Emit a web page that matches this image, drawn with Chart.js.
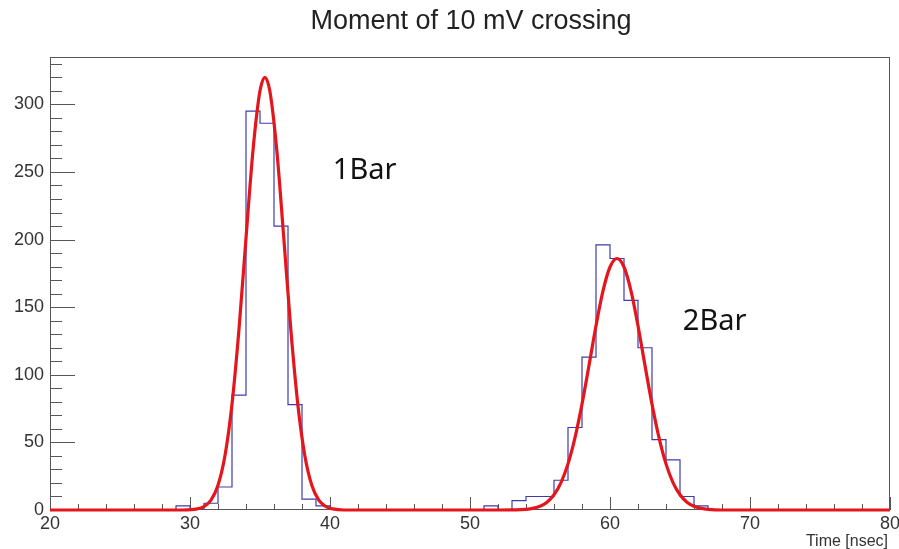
<!DOCTYPE html>
<html>
<head>
<meta charset="utf-8">
<script src="https://cdn.jsdelivr.net/npm/chart.js@4"></script>
<style>
  html, body { margin: 0; padding: 0; background: #fff; }
</style>
</head>
<body>
<canvas id="myChart" width="899" height="549"></canvas>
<script>
// histogram: 1 ns bins starting at 20 ns
const binStart = 20
const binWidth = 1
const histCounts = [
    0, 0, 0, 0, 0, 0, 0, 0, 0,              // 20-28
    3, 1, 5, 17, 85, 295, 286, 210, 78, 8, 3, // 29-39
    0, 0, 0, 0, 0, 0, 0, 0, 0, 0, 0,        // 40-50
    3, 0, 7, 10, 10, 22, 61, 113, 196, 186, 155, 120, 52, 37, 10, 3, // 51-66
    0, 0, 0, 0, 0, 0, 0, 0, 0, 0, 0, 0, 0   // 67-79
]

// gaussian fit curve
const fitX = [20, 29.5, 30.5, 31, 31.5, 32, 32.5, 33, 33.5, 34, 34.5, 35, 35.35, 35.7, 36.2, 36.7, 37.2, 37.7, 38.2, 38.7, 39.2, 39.7, 40.2, 41,
    52, 53, 54, 55, 55.5, 56, 56.5, 57, 57.5, 58, 58.5, 59, 59.5, 60, 60.5, 61, 61.5, 62, 62.5, 63, 63.5, 64, 64.5, 65, 65.5, 66, 66.5, 67, 68, 80]
const fitY = [0, 0, 0.8, 2.6, 7.3, 18.3, 40.3, 78.2, 133.7, 201, 266, 310, 320, 310, 266, 201, 133.7, 78.2, 40.3, 18.3, 7.3, 2.6, 0.8, 0,
    0, 0.1, 0.5, 2.8, 5.8, 11.3, 20.3, 34.1, 53.5, 78.3, 106.9, 136.2, 162, 179.7, 186, 179.7, 162, 136.2, 106.9, 78.3, 53.5, 34.1, 20.3, 11.3, 5.8, 2.8, 1.3, 0.5, 0, 0]

const xTicks = [20, 30, 40, 50, 60, 70, 80]
const yTicks = [0, 50, 100, 150, 200, 250, 300]
const xMinorStep = 2
const yMinorStep = 10

const titleText = 'Moment of 10 mV crossing'
const xTitle = 'Time [nsec]'
const notes = [
    { text: '1Bar', x: 40.2, y: 245 },
    { text: '2Bar', x: 65.2, y: 133 }
]

const histPoints = histCounts.map((c, i) => ({ x: binStart + i * binWidth, y: c }))
histPoints.push({ x: binStart + histCounts.length * binWidth, y: 0 })
const fitPoints = fitX.map((x, i) => ({ x: x, y: fitY[i] }))

const tickFont = { family: 'Liberation Sans', size: 18 }

const rootFrame = {
    id: 'rootFrame',
    beforeDatasetsDraw(chart) {
        const { ctx, chartArea: a, scales: { x, y } } = chart
        ctx.save()
        ctx.strokeStyle = '#555'
        ctx.lineWidth = 1
        ctx.strokeRect(a.left + 0.5, a.top + 0.5, a.right - a.left - 1, a.bottom - a.top - 1)
        ctx.beginPath()
        for (let v = y.min; v <= y.max; v += yMinorStep) {
            const py = Math.round(y.getPixelForValue(v)) + 0.5
            const len = v % 50 === 0 ? 25 : 12
            ctx.moveTo(a.left, py)
            ctx.lineTo(a.left + len, py)
        }
        for (let v = x.min; v <= x.max; v += xMinorStep) {
            const px = Math.round(x.getPixelForValue(v)) + 0.5
            const len = v % 10 === 0 ? 13 : 6
            ctx.moveTo(px, a.bottom)
            ctx.lineTo(px, a.bottom - len)
        }
        ctx.stroke()
        ctx.restore()
    },
    afterDraw(chart) {
        const { ctx, scales: { x, y } } = chart
        ctx.save()
        ctx.fillStyle = '#222'
        ctx.textAlign = 'center'
        ctx.textBaseline = 'alphabetic'
        ctx.font = '27px "Liberation Sans"'
        ctx.fillText(titleText, 471, 29)

        ctx.fillStyle = '#333'
        ctx.textAlign = 'right'
        ctx.font = '16px "Liberation Sans"'
        ctx.fillText(xTitle, 888, 546)

        ctx.fillStyle = '#111'
        ctx.textAlign = 'left'
        ctx.font = '29px "Noto Sans"'
        notes.forEach(n => ctx.fillText(n.text, x.getPixelForValue(n.x), y.getPixelForValue(n.y)))
        ctx.restore()
    }
}

const ctx = document.getElementById('myChart')

const myChart = new Chart(ctx, {
    type: 'line',
    plugins: [rootFrame],
    data: {
        datasets: [
            {
                label: 'histogram',
                data: histPoints,
                stepped: 'before',
                borderColor: 'rgb(60, 60, 175)',
                borderWidth: 1.2,
                pointRadius: 0,
                fill: false,
                order: 2
            },
            {
                label: 'fit',
                data: fitPoints,
                borderColor: 'rgb(228, 22, 28)',
                borderWidth: 3.2,
                pointRadius: 0,
                cubicInterpolationMode: 'monotone',
                fill: false,
                clip: false,
                order: 1
            }
        ]
    },
    options: {
        responsive: false,
        animation: false,
        layout: { padding: { top: 57, right: 9, left: 0, bottom: 0 } },
        plugins: {
            legend: { display: false },
            tooltip: { enabled: false }
        },
        scales: {
            x: {
                type: 'linear',
                min: 20,
                max: 80,
                grid: { display: false, drawTicks: false },
                border: { display: false },
                ticks: { font: tickFont, color: '#333', padding: 3, maxRotation: 0, autoSkip: false },
                afterBuildTicks: s => { s.ticks = xTicks.map(v => ({ value: v })) },
                afterFit: s => { s.height = 39; s.paddingLeft = 0; s.paddingRight = 0 }
            },
            y: {
                type: 'linear',
                min: 0,
                max: 335,
                grid: { display: false, drawTicks: false },
                border: { display: false },
                ticks: { font: tickFont, color: '#333', padding: 6 },
                afterBuildTicks: s => { s.ticks = yTicks.map(v => ({ value: v })) },
                afterFit: s => { s.width = 50; s.paddingTop = 0; s.paddingBottom = 0 }
            }
        }
    }
})
</script>
</body>
</html>
